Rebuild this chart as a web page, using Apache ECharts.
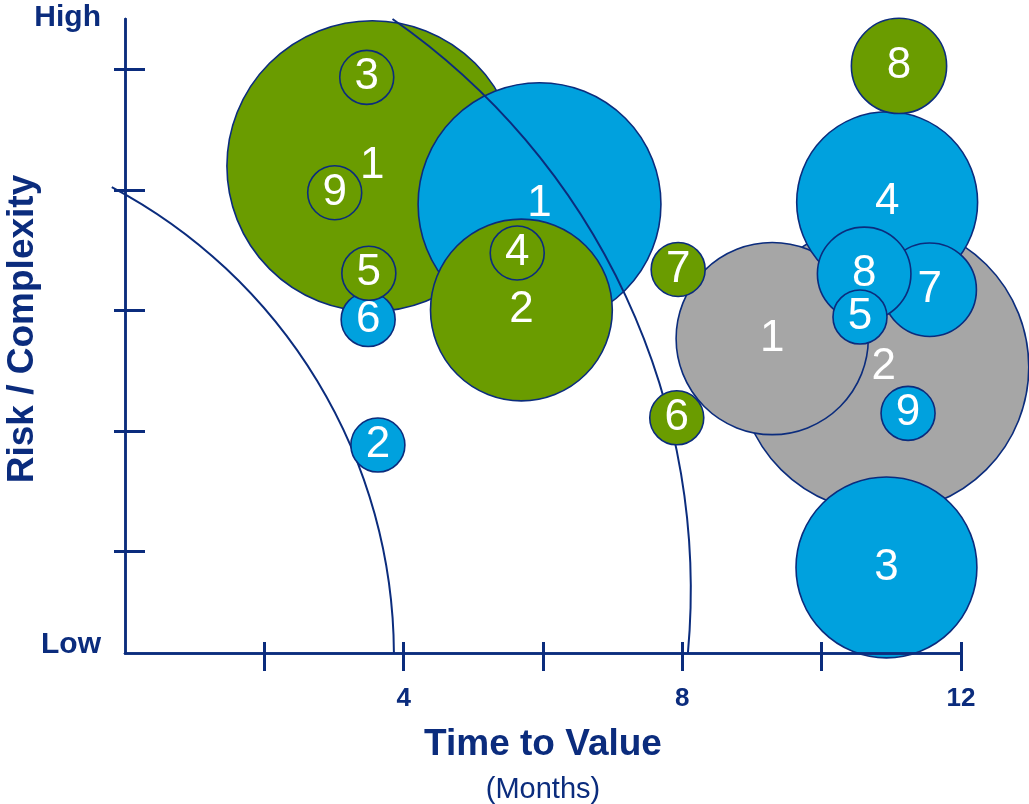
<!DOCTYPE html>
<html>
<head>
<meta charset="utf-8">
<script src="https://cdn.jsdelivr.net/npm/echarts@6/dist/echarts.min.js"></script>
<style>
  html, body { margin: 0; padding: 0; background: #ffffff; }
  #chart { width: 1029px; height: 804px; }
</style>
</head>
<body>
<div id="chart"></div>
<script>
// Project bubbles: [project no., time to value (months), risk / complexity (0-100), size]
const greenProjects = [
  [1, 3.55, 76.8, 261],
  [2, 5.69, 54.1, 102],
  [3, 3.47, 90.8, 9],
  [4, 5.63, 63.1, 9],
  [5, 3.50, 59.9, 9],
  [6, 7.92, 37.1, 9],
  [7, 7.94, 60.5, 9],
  [8, 11.11, 92.6, 28],
  [9, 3.01, 72.6, 9]
];
const blueProjects = [
  [1, 5.95, 70.8, 182],
  [2, 3.63, 32.8, 9],
  [3, 10.93, 13.5, 101],
  [4, 10.94, 71.1, 101],
  [5, 10.55, 53.0, 9],
  [6, 3.49, 52.6, 9],
  [7, 11.55, 57.3, 27],
  [8, 10.61, 59.8, 27],
  [9, 11.24, 37.8, 9]
];
const greyProjects = [
  [1, 9.29, 49.6, 114],
  [2, 10.89, 45.1, 260]
];

// Reference arcs: [start months, start risk, end months, end risk, radius in months]
const arcs = [
  [-0.19, 73.5, 3.86, 0, 7.61],
  [3.84, 100, 8.08, 0, 9.98]
];

// Axis ticks and labels
const monthTicks = [2, 4, 6, 8, 10, 12];
const monthLabels = [4, 8, 12];
const riskTicks = [16, 35, 54, 73, 92];
const riskLabels = [0, 100];

const NAVY = '#0b2c7d';
const GREEN = '#6a9c00';
const BLUE = '#00a1de';
const GREY = '#a6a6a6';
const FONT = 'Liberation Sans';

// Merge all bubbles; larger ones are drawn first so smaller ones stay on top
const groups = [
  { color: GREY, items: greyProjects },
  { color: BLUE, items: blueProjects },
  { color: GREEN, items: greenProjects }
];
const bubbles = [];
groups.forEach(g => g.items.forEach(b => {
  bubbles.push({ value: [b[1], b[2], b[3], b[0]], itemStyle: { color: g.color } });
}));
bubbles.sort((a, b) => b.value[2] - a.value[2]);
const bigBubbles = bubbles.filter(d => d.value[2] >= 50);
const smallBubbles = bubbles.filter(d => d.value[2] < 50);

function bubbleSeries(data, z) {
  return {
    type: 'scatter',
    xAxisIndex: 0,
    yAxisIndex: 0,
    z: z,
    clip: false,
    silent: true,
    data: data,
    symbol: 'circle',
    symbolSize: v => Math.sqrt(v[2]) * 18,
    itemStyle: { borderColor: NAVY, borderWidth: 1.6, opacity: 1 },
    label: {
      show: true,
      position: 'inside',
      formatter: p => String(p.value[3]),
      color: '#ffffff',
      fontSize: 44,
      fontFamily: FONT,
      fontWeight: 'normal'
    },
    emphasis: { disabled: true }
  };
}

const axisLineStyle = { color: NAVY, width: 2.5 };
const tickLineStyle = { color: NAVY, width: 3 };

const option = {
  backgroundColor: '#ffffff',
  animation: false,
  grid: { left: 125, right: 68, top: 19, bottom: 151, containLabel: false, outerBoundsMode: 'none' },
  xAxis: [
    {
      type: 'value', min: 0, max: 12, position: 'bottom', z: 3,
      axisLine: { show: true, lineStyle: axisLineStyle },
      axisTick: { show: true, customValues: monthTicks, length: 18, lineStyle: tickLineStyle },
      axisLabel: {
        customValues: monthLabels, margin: 33,
        color: NAVY, fontSize: 26, fontWeight: 'bold', fontFamily: FONT
      },
      splitLine: { show: false },
      name: '{t|Time to Value}\n{s|(Months)}',
      nameLocation: 'middle',
      nameGap: 70,
      nameMoveOverlap: false,
      nameTextStyle: {
        rich: {
          t: { fontSize: 37, fontWeight: 'bold', color: NAVY, fontFamily: FONT, lineHeight: 44 },
          s: { fontSize: 29, fontWeight: 'normal', color: NAVY, fontFamily: FONT, lineHeight: 46 }
        }
      }
    },
    {
      type: 'value', min: 0, max: 12, position: 'bottom', z: 3,
      axisLine: { show: false },
      axisTick: { show: true, inside: true, customValues: monthTicks, length: 11, lineStyle: tickLineStyle },
      axisLabel: { show: false },
      splitLine: { show: false }
    },
    {
      type: 'value', min: 0, max: 12, position: 'top', z: 3,
      axisLine: { show: true, lineStyle: { color: NAVY, width: 2.5 } },
      axisTick: { show: false },
      axisLabel: { show: false },
      splitLine: { show: false }
    }
  ],
  yAxis: [
    {
      type: 'value', min: 0, max: 100, position: 'left', z: 3,
      axisLine: { show: true, lineStyle: axisLineStyle },
      axisTick: { show: true, customValues: riskTicks, length: 11, lineStyle: tickLineStyle },
      axisLabel: {
        customValues: riskLabels, margin: 24,
        formatter: v => (v === 100 ? '{hi|High}' : '{lo|Low}'),
        rich: {
          hi: { fontSize: 30, fontWeight: 'bold', color: NAVY, fontFamily: FONT, padding: [0, 0, 2, 0] },
          lo: { fontSize: 30, fontWeight: 'bold', color: NAVY, fontFamily: FONT, padding: [0, 0, 16, 0] }
        }
      },
      splitLine: { show: false },
      name: 'Risk / Complexity',
      nameLocation: 'middle',
      nameRotate: 90,
      nameGap: 84,
      nameMoveOverlap: false,
      nameTextStyle: { fontSize: 37, fontWeight: 'bold', color: NAVY, fontFamily: FONT, padding: [0, 0, 0, 14] }
    },
    {
      type: 'value', min: 0, max: 100, position: 'left', z: 3,
      axisLine: { show: false },
      axisTick: { show: true, inside: true, customValues: riskTicks, length: 20, lineStyle: tickLineStyle },
      axisLabel: { show: false },
      splitLine: { show: false }
    },
    {
      type: 'value', min: 0, max: 100, position: 'right', z: 3,
      axisLine: { show: true, lineStyle: { color: NAVY, width: 2.5 } },
      axisTick: { show: false },
      axisLabel: { show: false },
      splitLine: { show: false }
    }
  ],
  series: [
    bubbleSeries(bigBubbles, 2),
    {
      type: 'custom',
      xAxisIndex: 0,
      yAxisIndex: 0,
      z: 3,
      clip: false,
      silent: true,
      data: arcs,
      renderItem: function (params, api) {
        const p0 = api.coord([api.value(0), api.value(1)]);
        const p1 = api.coord([api.value(2), api.value(3)]);
        const r = api.size([api.value(4), 0])[0];
        return {
          type: 'path',
          shape: { pathData: 'M' + p0[0] + ' ' + p0[1] + ' A' + r + ' ' + r + ' 0 0 1 ' + p1[0] + ' ' + p1[1] },
          style: { fill: 'none', stroke: NAVY, lineWidth: 2 }
        };
      }
    },
    bubbleSeries(smallBubbles, 4)
  ]
};

const chart = echarts.init(document.getElementById('chart'), null, { renderer: 'canvas' });
chart.setOption(option);
</script>
</body>
</html>
